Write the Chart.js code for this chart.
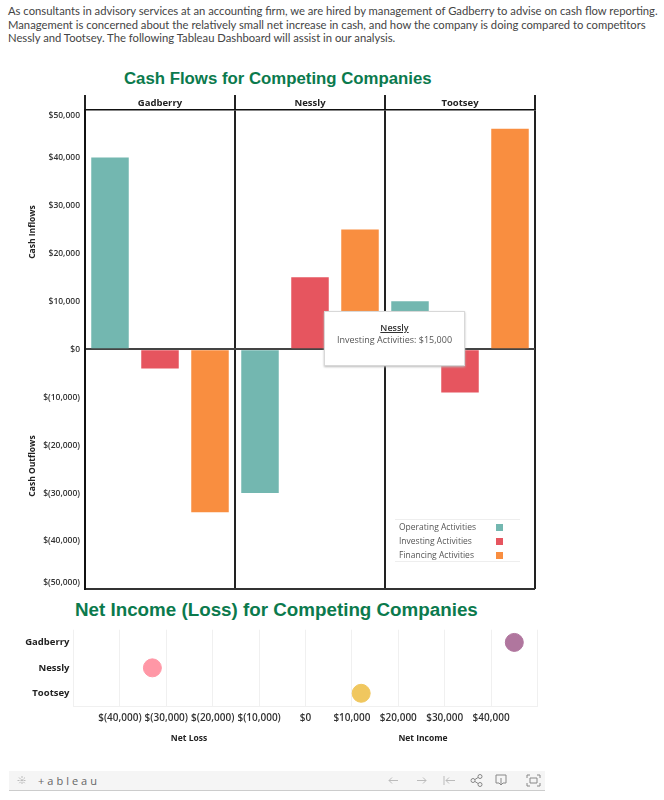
<!DOCTYPE html>
<html>
<head>
<meta charset="utf-8">
<script src="https://cdn.jsdelivr.net/npm/chart.js@4/dist/chart.umd.js"></script>
<style>
html, body { margin: 0; padding: 0; background: #fff; }
#page { position: relative; width: 664px; height: 800px; overflow: hidden; font-family: Lato, sans-serif; }
#page > * { position: absolute; }
canvas { display: block; }
.intro { left: 8px; top: 4px; width: 654px; font: 11.25px/13.5px Lato, sans-serif; color: #444; white-space: nowrap; }
h2 { margin: 0; font: bold 17px "Liberation Sans", Arial, sans-serif; color: #0b7a4d; white-space: nowrap; }
.note { font: bold 8.5px "Open Sans", sans-serif; color: #222; white-space: nowrap; transform: translate(-50%, -50%); }
.note.side { transform: translate(-50%, -50%) rotate(-90deg); }
#tip { left: 324px; top: 311px; width: 141px; height: 55px; background: #fff; border: 1px solid #d8d8d8; box-shadow: 0 1px 2px #bbb;
  text-align: center; font: 9px/12px "Open Sans", sans-serif; color: #555; padding-top: 10px; box-sizing: border-box; }
#tip b { display: block; color: #333; font-weight: 600; text-decoration: underline; }
#legend { left: 395px; top: 519px; width: 125px; height: 41px; border-top: 1px solid #eee; border-bottom: 1px solid #eee; font: 8.5px/14px "Open Sans", sans-serif; color: #555; }
#legend div { position: relative; padding-left: 4px; white-space: nowrap; }
#legend i { position: absolute; left: 101px; top: 4px; width: 7px; height: 7px; }
#bar { left: 9px; top: 771px; width: 536px; height: 19px; background: #f5f5f5; border-bottom: 1px solid #ccc; }
#brand { position: absolute; left: 29px; top: 2px; font: 11px "Open Sans", sans-serif; color: #666; letter-spacing: 3px; }
#bar svg { position: absolute; left: 0; top: 0; }
</style>
</head>
<body>
<div id="page">
  <div class="intro">As consultants in advisory services at an accounting firm, we are hired by management of Gadberry to advise on cash flow reporting.<br>Management is concerned about the relatively small net increase in cash, and how the company is doing compared to competitors<br>Nessly and Tootsey. The following Tableau Dashboard will assist in our analysis.</div>

  <h2 style="left:124px;top:69px;font-size:16.8px">Cash Flows for Competing Companies</h2>
  <canvas id="flows" style="left:0;top:90px"></canvas>
  <div class="note side" style="left:31px;top:232px">Cash Inflows</div>
  <div class="note side" style="left:31px;top:466px">Cash Outflows</div>
  <div id="legend"></div>
  <div id="tip"></div>

  <h2 style="left:75px;top:599px;font-size:18.8px">Net Income (Loss) for Competing Companies</h2>
  <canvas id="income" style="left:0;top:620px"></canvas>
  <div class="note" style="left:189px;top:737px">Net Loss</div>
  <div class="note" style="left:423px;top:737px">Net Income</div>

  <div id="bar">
    <span id="brand">+ableau</span>
    <svg width="536" height="19" fill="none" stroke="#bbb" stroke-width="1">
      <path d="M13 5v9M8.5 9.5h9M10 6.5l6 6M16 6.5l-6 6" stroke-dasharray="2 1"/>
      <path d="M380 9.5h9M380 9.5l3-3M380 9.5l3 3M408 9.5h9M417 9.5l-3-3M417 9.5l-3 3M435 5v9M437 9.5h9M437 9.5l3-3M437 9.5l3 3"/>
      <g stroke="#888"><circle cx="464" cy="9.5" r="2"/><circle cx="471" cy="5.5" r="2"/><circle cx="471" cy="13.5" r="2"/><path d="M466 8.5l3-2M466 10.5l3 2"/>
      <path d="M490 12h-3V4h10v8h-3M492 7v7M490 12l2 2 2-2"/><path d="M518 7V4h3M528 4h3v3M518 12v3h3M528 15h3v-3M521 7h7v5h-7z"/></g>
    </svg>
  </div>
</div>

<script>
// top chart
const companies = ['Gadberry', 'Nessly', 'Tootsey'];
const activities = ['Operating Activities', 'Investing Activities', 'Financing Activities'];
const operating = [40000, -30000, 10000];
const investing = [-4000, 15000, -9000];
const financing = [-34000, 25000, 46000];
const activityColors = ['#73b7b0', '#e6555f', '#f98e40'];

// bottom chart
const netIncome = [45000, -33000, 12000];
const dotColors = ['#b0769e', '#ff97a6', '#f0c75f'];

const money = v => v < 0 ? '$(' + Math.abs(v).toLocaleString('en-US') + ')' : '$' + v.toLocaleString('en-US');
const tickColor = '#333';

function setSize(id, w, h) {
    const c = document.getElementById(id);
    c.style.width = w + 'px';
    c.style.height = h + 'px';
    c.width = w;
    c.height = h;
    return c;
}

new Chart(setSize('flows', 664, 505), {
    type: 'bar',
    data: {
        labels: companies,
        datasets: [operating, investing, financing].map((values, i) => ({
            label: activities[i],
            data: values,
            backgroundColor: activityColors[i]
        }))
    },
    options: {
        responsive: false,
        animation: false,
        devicePixelRatio: 1,
        categoryPercentage: 1,
        barPercentage: 0.75,
        layout: { autoPadding: false, padding: { right: 129, bottom: 6 } },
        plugins: { legend: { display: false }, tooltip: { enabled: false } },
        scales: {
            x: {
                position: 'top',
                afterFit: s => { s.height = 19.5; },
                border: { color: '#111', width: 1.5 },
                grid: { offset: true, color: '#222', lineWidth: 2, tickLength: 14.5 },
                ticks: { font: { family: 'Open Sans', size: 9.5, weight: '700' }, color: '#222', padding: -14, maxRotation: 0 }
            },
            y: {
                min: -50000,
                max: 50000,
                afterFit: s => { s.width = 85; s.paddingTop = 0; s.paddingBottom = 0; },
                border: { color: '#111', width: 2 },
                grid: {
                    drawTicks: false,
                    // only the zero line and the floor show
                    color: ctx => ctx.tick.value === 0 ? '#444' : ctx.tick.value === -50000 ? '#333' : 'rgba(0,0,0,0)',
                    lineWidth: 2
                },
                ticks: {
                    stepSize: 10000,
                    font: { family: 'Open Sans', size: 8.5, weight: '600', lineHeight: 1.5 },
                    color: tickColor,
                    padding: 5,
                    // the two end labels sit inside the plot, a blank line pushes them in
                    callback: v => v === 50000 ? ['', money(v)] : v === -50000 ? [money(v), ''] : money(v)
                }
            }
        }
    }
});

new Chart(setSize('income', 664, 130), {
    type: 'scatter',
    data: {
        datasets: [{
            label: 'Net Income',
            data: netIncome.map((v, i) => ({ x: v, y: companies[i] })),
            backgroundColor: dotColors,
            borderColor: dotColors,
            pointRadius: 9,
            pointHoverRadius: 9
        }]
    },
    options: {
        responsive: false,
        animation: false,
        devicePixelRatio: 1,
        layout: { autoPadding: false, padding: { top: 8, right: 126.5 } },
        plugins: { legend: { display: false }, tooltip: { enabled: false } },
        scales: {
            x: {
                min: -50000,
                max: 50000,
                afterFit: s => { s.height = 44; },
                border: { color: '#f0f0f0' },
                grid: { color: '#f0f0f0', drawTicks: false },
                ticks: {
                    stepSize: 10000,
                    font: { family: 'Open Sans', size: 10, weight: '600' },
                    color: tickColor,
                    padding: 6,
                    maxRotation: 0,
                    autoSkip: false,
                    callback: v => Math.abs(v) === 50000 ? '' : money(v)
                }
            },
            y: {
                type: 'category',
                labels: companies,
                offset: true,
                afterFit: s => { s.width = 73.5; },
                border: { display: false },
                grid: { display: false, drawTicks: false },
                ticks: { font: { family: 'Open Sans', size: 9.5, weight: '700' }, color: '#222', padding: 4 }
            }
        }
    }
});

// legend and the hovered mark's tooltip
document.getElementById('legend').innerHTML = activities
    .map((a, i) => '<div>' + a + '<i style="background:' + activityColors[i] + '"></i></div>').join('');
document.getElementById('tip').innerHTML = '<b>' + companies[1] + '</b>' + activities[1] + ': ' + money(investing[1]);
</script>
</body>
</html>
